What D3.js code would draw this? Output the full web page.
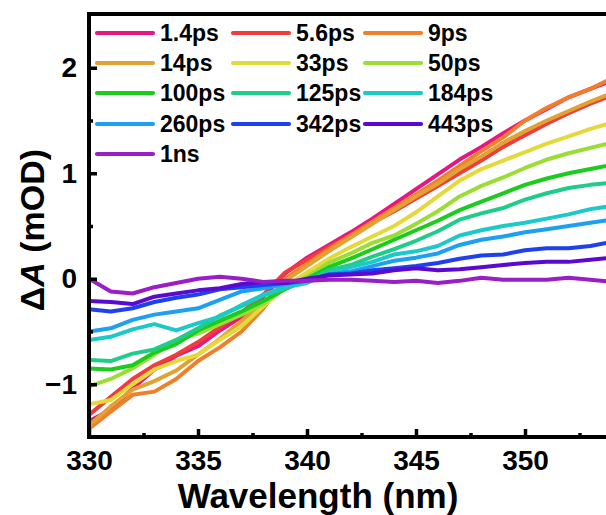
<!DOCTYPE html>
<html>
<head>
<meta charset="utf-8">
<script src="https://cdn.jsdelivr.net/npm/d3@7/dist/d3.min.js"></script>
<style>
  body { margin: 0; background: #fff; }
  svg { display: block; }
  text { font-family: "Liberation Sans", Arial, Helvetica, sans-serif; font-weight: bold; fill: #000; }
</style>
</head>
<body>
<svg id="chart" width="606" height="515"></svg>
<script>
// Transient absorption spectra: ΔA (mOD) versus probe wavelength at several delays
const wavelength = [330, 331, 332, 333, 334, 335, 336, 337, 338, 339, 340, 341, 342,
                    343, 344, 345, 346, 347, 348, 349, 350, 351, 352, 353, 354];

const delays = ["1.4ps", "5.6ps", "9ps", "14ps", "33ps", "50ps", "100ps",
                "125ps", "184ps", "260ps", "342ps", "443ps", "1ns"];

const colors = ["#e8177f", "#f03c3c", "#f07f2c", "#e0a232", "#e4d93a", "#9ade35", "#1ccc1c",
                "#20cc8a", "#1cc8c8", "#1ea0f0", "#1e40ee", "#5a0ad0", "#9a1ec8"];

const dA_1_4ps = [-1.35,-1.24,-1.04,-0.86,-0.73,-0.64,-0.49,-0.36,-0.17,0.05,0.20,0.32,0.44,0.57,0.71,0.85,0.99,1.13,1.25,1.38,1.50,1.61,1.72,1.80,1.88];
const dA_5_6ps = [-1.29,-1.12,-0.95,-0.82,-0.72,-0.60,-0.46,-0.32,-0.15,0.06,0.18,0.30,0.41,0.53,0.64,0.76,0.88,1.00,1.12,1.25,1.36,1.47,1.57,1.66,1.74];
const dA_9ps   = [-1.42,-1.26,-1.10,-1.07,-0.95,-0.78,-0.65,-0.50,-0.28,0.00,0.14,0.28,0.41,0.54,0.67,0.80,0.93,1.07,1.21,1.34,1.50,1.62,1.72,1.80,1.90];
const dA_14ps  = [-1.39,-1.21,-1.05,-0.97,-0.87,-0.72,-0.57,-0.40,-0.24,-0.02,0.12,0.26,0.39,0.52,0.65,0.78,0.90,1.04,1.16,1.29,1.40,1.50,1.59,1.68,1.76];
const dA_33ps  = [-1.19,-1.15,-1.00,-0.86,-0.78,-0.72,-0.58,-0.45,-0.26,-0.07,0.06,0.19,0.30,0.40,0.50,0.63,0.78,0.93,1.04,1.12,1.20,1.28,1.35,1.42,1.48];
const dA_50ps  = [-1.02,-0.95,-0.85,-0.72,-0.58,-0.52,-0.43,-0.34,-0.24,-0.09,0.02,0.15,0.24,0.34,0.41,0.52,0.64,0.78,0.88,0.96,1.05,1.13,1.19,1.24,1.29];
const dA_100ps = [-0.85,-0.86,-0.82,-0.70,-0.62,-0.49,-0.40,-0.31,-0.21,-0.10,0.00,0.11,0.19,0.28,0.37,0.46,0.55,0.65,0.73,0.81,0.89,0.95,1.00,1.04,1.08];
const dA_125ps = [-0.77,-0.78,-0.71,-0.67,-0.58,-0.47,-0.35,-0.26,-0.16,-0.09,-0.02,0.08,0.13,0.21,0.28,0.36,0.45,0.56,0.62,0.67,0.75,0.81,0.86,0.89,0.91];
const dA_184ps = [-0.58,-0.55,-0.48,-0.43,-0.49,-0.42,-0.36,-0.25,-0.15,-0.08,-0.04,0.05,0.11,0.16,0.23,0.26,0.31,0.41,0.46,0.50,0.53,0.57,0.61,0.66,0.69];
const dA_260ps = [-0.50,-0.47,-0.39,-0.34,-0.31,-0.28,-0.20,-0.12,-0.09,-0.05,-0.02,0.04,0.07,0.12,0.17,0.20,0.24,0.32,0.37,0.40,0.44,0.47,0.50,0.53,0.56];
const dA_342ps = [-0.29,-0.31,-0.28,-0.22,-0.18,-0.15,-0.10,-0.08,-0.06,-0.04,-0.02,0.04,0.05,0.08,0.10,0.12,0.15,0.19,0.22,0.23,0.27,0.29,0.29,0.31,0.35];
const dA_443ps = [-0.21,-0.22,-0.24,-0.17,-0.14,-0.11,-0.09,-0.05,-0.03,-0.04,0.00,0.03,0.04,0.05,0.08,0.10,0.08,0.09,0.11,0.13,0.15,0.16,0.16,0.18,0.20];
const dA_1ns   = [0.00,-0.12,-0.14,-0.08,-0.04,0.00,0.02,0.00,-0.03,-0.02,-0.02,-0.01,-0.01,-0.02,-0.03,-0.02,-0.04,-0.02,0.01,-0.01,-0.01,-0.01,0.01,-0.01,-0.03];

const spectra = [dA_1_4ps, dA_5_6ps, dA_9ps, dA_14ps, dA_33ps, dA_50ps, dA_100ps,
                 dA_125ps, dA_184ps, dA_260ps, dA_342ps, dA_443ps, dA_1ns];

const xTicks = [330, 335, 340, 345, 350];
const yTicks = [-1, 0, 1, 2];

const svg = d3.select("#chart");
const plotLeft = 89, plotTop = 15, plotBottom = 437;

const x = d3.scaleLinear().domain([330, 354]).range([plotLeft, plotLeft + 24 * 21.8]);
const y = d3.scaleLinear().domain([-1.5, 2.5]).range([plotBottom, plotTop]);

// plot area clip (the frame runs past the right edge of the page)
svg.append("clipPath").attr("id", "plotClip")
  .append("rect").attr("x", plotLeft).attr("y", plotTop).attr("width", 600).attr("height", plotBottom - plotTop);

const line = d3.line()
  .x((d, i) => x(wavelength[i]))
  .y(d => y(d));

svg.append("g").attr("clip-path", "url(#plotClip)")
  .selectAll("path").data(spectra).join("path")
  .attr("d", line)
  .attr("fill", "none")
  .attr("stroke", (d, i) => colors[i])
  .attr("stroke-width", 4)
  .attr("stroke-linejoin", "round")
  .attr("stroke-linecap", "round");

// axes with inward ticks
const xAxis = d3.axisBottom(x).tickValues(xTicks).tickSize(-8).tickPadding(13).tickFormat(d3.format("d"));
const xMinor = d3.axisBottom(x).tickValues([332.5, 337.5, 342.5, 347.5, 352.5]).tickSize(-4).tickFormat("");
const yAxis = d3.axisLeft(y).tickValues(yTicks).tickSize(-8).tickPadding(12).tickFormat(d3.format("d"));
const yMinor = d3.axisLeft(y).tickValues([-0.5, 0.5, 1.5]).tickSize(-4).tickFormat("");

function styleAxis(g) {
  g.select(".domain").remove();
  g.selectAll(".tick line").attr("stroke", "#000").attr("stroke-width", 3.5);
  g.selectAll("text").attr("font-size", 28).attr("font-family", "Liberation Sans, Arial, sans-serif").attr("font-weight", "bold").attr("fill", "#000");
}

svg.append("g").attr("transform", `translate(0,${plotBottom})`).call(xMinor).call(styleAxis);
svg.append("g").attr("transform", `translate(0,${plotBottom})`).call(xAxis).call(styleAxis);
svg.append("g").attr("transform", `translate(${plotLeft},0)`).call(yMinor).call(styleAxis);
svg.append("g").attr("transform", `translate(${plotLeft},0)`).call(yAxis).call(styleAxis);

// frame: left, bottom and top edges
const frame = svg.append("g").attr("stroke", "#000").attr("stroke-width", 4).attr("fill", "none");
frame.append("line").attr("x1", plotLeft).attr("x2", plotLeft).attr("y1", plotTop - 3).attr("y2", plotBottom + 2);
frame.append("line").attr("x1", plotLeft - 2).attr("x2", 606).attr("y1", plotBottom).attr("y2", plotBottom);
frame.append("line").attr("x1", plotLeft - 2).attr("x2", 606).attr("y1", plotTop - 1).attr("y2", plotTop - 1);

// axis titles
svg.append("text")
  .attr("x", 318).attr("y", 508)
  .attr("text-anchor", "middle").attr("font-size", 35)
  .text("Wavelength (nm)");

const yTitle = svg.append("text")
  .attr("transform", "translate(44,230) rotate(-90)")
  .attr("text-anchor", "middle").attr("font-size", 34);
yTitle.append("tspan").text("Δ");
yTitle.append("tspan").attr("font-style", "italic").text("A");
yTitle.append("tspan").text(" (mOD)");

// legend: three columns, filled row by row
const colX = [97, 233, 365];
const rowY = [33, 63, 93, 124, 154];
const legend = svg.append("g");
delays.forEach((name, i) => {
  const cx = colX[i % 3], cy = rowY[Math.floor(i / 3)];
  legend.append("line")
    .attr("x1", cx).attr("x2", cx + 56).attr("y1", cy).attr("y2", cy)
    .attr("stroke", colors[i]).attr("stroke-width", 4.2).attr("stroke-linecap", "round");
  legend.append("text")
    .attr("x", cx + 63).attr("y", cy + 8)
    .attr("font-size", 23)
    .text(name);
});
</script>
</body>
</html>
